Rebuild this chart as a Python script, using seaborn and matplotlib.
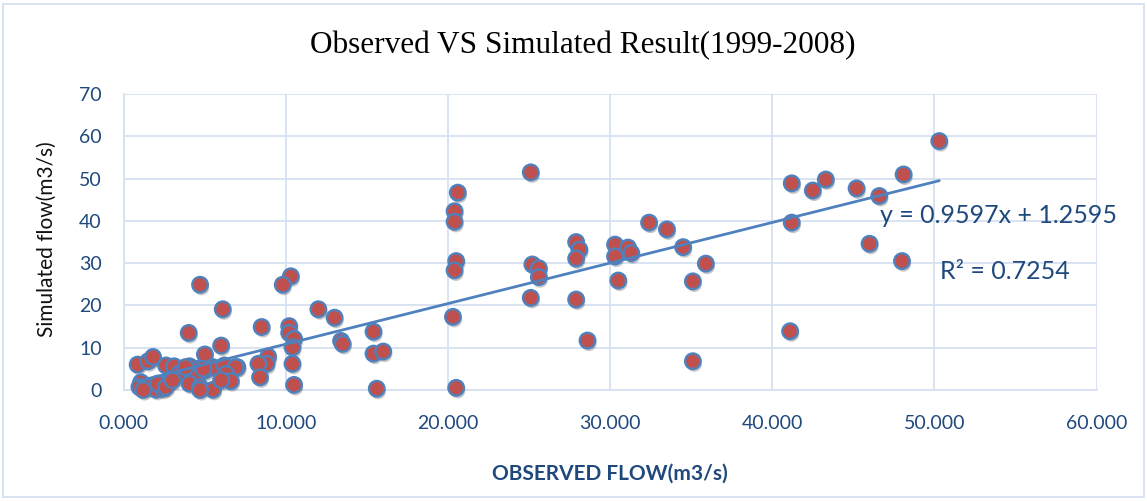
import numpy as np
import pandas as pd
import matplotlib
matplotlib.use('Agg')
import matplotlib.pyplot as plt
import matplotlib.patheffects as pe
from matplotlib.patches import Rectangle
import seaborn as sns

# ── DATA ────────────────────────────────────────────────────────────────────
observed = [
    50.3, 48.1, 41.2, 42.5, 43.3, 45.2, 46.6, 41.2, 46.0, 48.0, 41.1,
    25.1, 20.6, 20.4, 20.4, 20.5, 20.4, 20.3, 20.5,
    32.4, 33.5, 34.5, 35.9, 35.1, 35.1,
    30.3, 31.1, 31.3, 30.3, 30.5,
    27.9, 28.1, 27.9, 27.9, 28.6,
    25.2, 25.6, 25.6, 25.1,
    12.0, 13.0, 15.4, 13.4, 13.5, 15.4, 16.0, 15.6,
    10.3, 9.8, 10.2, 10.2, 10.5, 10.4, 10.4, 10.5,
    4.7, 6.1, 4.0, 8.5, 6.0, 8.9, 8.8, 8.3, 8.4, 5.0,
    0.85, 1.5, 1.8, 2.6, 3.1, 4.05, 4.6, 5.0, 5.5, 6.2, 7.0, 6.9, 6.3,
    3.4, 4.25, 4.5, 2.9, 4.05, 4.7, 5.5, 4.7, 6.6, 6.0,
    1.06, 0.96, 1.5, 2.0, 2.4, 2.1, 1.2, 2.6, 3.0, 3.8, 4.9,
]
simulated = [
    58.9, 51.0, 48.9, 47.2, 49.8, 47.7, 45.9, 39.6, 34.6, 30.5, 13.9,
    51.5, 46.7, 42.3, 39.8, 30.5, 28.3, 17.3, 0.5,
    39.6, 38.0, 33.8, 29.9, 25.7, 6.8,
    34.4, 33.7, 32.4, 31.6, 25.9,
    35.0, 33.2, 31.1, 21.4, 11.7,
    29.7, 28.8, 26.7, 21.8,
    19.1, 17.1, 13.8, 11.6, 10.9, 8.6, 9.1, 0.3,
    26.9, 24.9, 15.1, 13.5, 12.1, 10.1, 6.2, 1.2,
    24.9, 19.1, 13.5, 14.9, 10.5, 7.9, 6.2, 6.2, 3.0, 8.4,
    6.0, 6.8, 7.8, 5.8, 5.6, 5.6, 5.0, 4.6, 5.4, 5.8, 5.4, 5.4, 3.8,
    3.8, 3.8, 3.0, 2.4, 1.5, 0.7, 0.05, 0.0, 2.1, 2.3,
    1.8, 0.7, 0.7, 0.05, 0.3, 1.5, 0.0, 0.7, 2.3, 5.4, 5.0,
]

# trendline as printed on the chart
SLOPE = 0.9597
INTERCEPT = 1.2595
R2 = 0.7254

x_ticks = [0, 10, 20, 30, 40, 50, 60]
y_ticks = [0, 10, 20, 30, 40, 50, 60, 70]

df = pd.DataFrame({'observed': observed, 'simulated': simulated})

# ── STYLE ───────────────────────────────────────────────────────────────────
sns.set_style('white')
plt.rcParams['font.family'] = ['Lato', 'DejaVu Sans']

TXT = '#1F497D'
GRID = '#D6E0F0'
FILL = '#C0504D'
EDGE = '#4F81BD'

fig = plt.figure(figsize=(11.47, 5.01), dpi=100)
ax = fig.add_axes([0.108, 0.2216, 0.848, 0.5904])

sns.scatterplot(
    data=df, x='observed', y='simulated', ax=ax,
    s=125, color=FILL, edgecolor=EDGE, linewidth=1.7, zorder=3,
    legend=False, clip_on=False,
)
ax.collections[0].set_path_effects([
    pe.SimplePatchShadow(offset=(1, -2), shadow_rgbFace='black', alpha=0.22),
    pe.Normal(),
])

# trendline across the range of the observed data
xs = np.array([min(observed), max(observed)])
ax.plot(xs, SLOPE * xs + INTERCEPT, color=EDGE, linewidth=2.0, zorder=4)

ax.set_xlim(0, 60)
ax.set_ylim(0, 70)
ax.set_xticks(x_ticks)
ax.set_yticks(y_ticks)
ax.set_xticklabels([f'{v:.3f}' for v in x_ticks])
ax.set_yticklabels([str(v) for v in y_ticks])
ax.tick_params(axis='both', length=0, labelsize=14, colors=TXT)
ax.tick_params(axis='x', pad=18)
ax.tick_params(axis='y', pad=16)

ax.grid(True, color=GRID, linewidth=1.3)
ax.set_axisbelow(True)
for side in ('top', 'right'):
    ax.spines[side].set_visible(False)
for side in ('left', 'bottom'):
    ax.spines[side].set_color(GRID)
    ax.spines[side].set_linewidth(1.3)

ax.set_xlabel('OBSERVED FLOW(m3/s)', fontsize=15, fontweight='bold', color=TXT)
ax.xaxis.set_label_coords(0.5, -0.25)
ax.set_ylabel('Simulated flow(m3/s)', fontsize=15, color='#111111')
ax.yaxis.set_label_coords(-0.069, 0.51)

ax.text(0.899, 0.591, f'y = {SLOPE}x + {INTERCEPT}', transform=ax.transAxes,
        ha='center', va='center', fontsize=18, color=TXT, zorder=5)
ax.text(0.906, 0.399, f'R² = {R2}', transform=ax.transAxes,
        ha='center', va='center', fontsize=18, color=TXT, zorder=5)

fig.text(0.508, 0.91, 'Observed VS Simulated Result(1999-2008)',
         ha='center', va='center', fontsize=22.5, family='Liberation Serif', color='black')

# chart-area border
fig.patches.append(Rectangle((0.003, 0.008), 0.994, 0.984, transform=fig.transFigure,
                             fill=False, edgecolor=GRID, linewidth=1.3))

fig.savefig('out.png', dpi=100)
